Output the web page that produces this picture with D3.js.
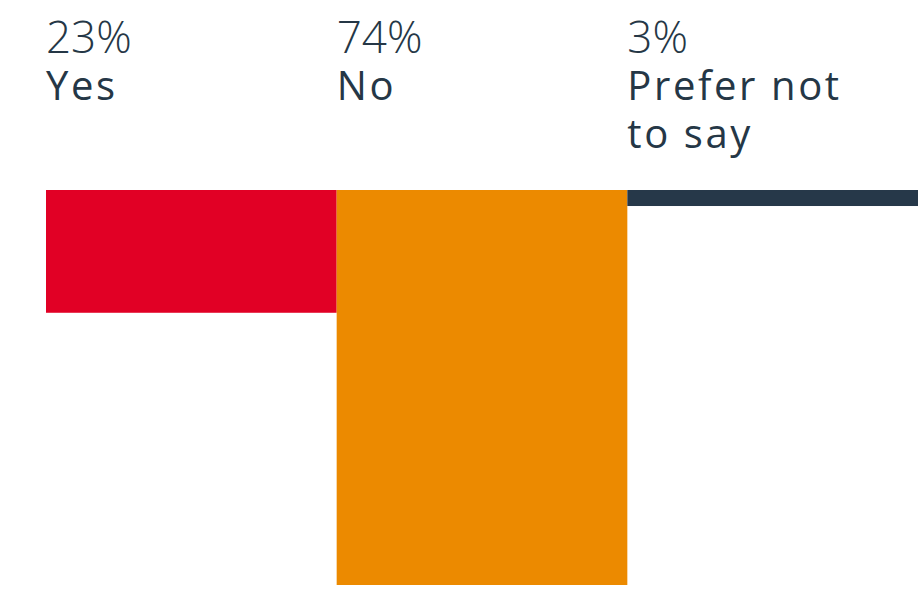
<!DOCTYPE html>
<html>
<head>
<meta charset="utf-8">
<script src="https://cdn.jsdelivr.net/npm/d3@7"></script>
<style>
html,body{margin:0;padding:0;background:#fff;}
svg{display:block;}
text{font-family:"Open Sans", Lato, sans-serif;fill:#253746;}
</style>
</head>
<body>
<svg id="chart" width="923" height="591"></svg>
<script>
const categories = ["Yes", "No", "Prefer not to say"];
const values = [23, 74, 3];
const colors = ["#E10025", "#EC8A00", "#263849"];

const data = categories.map((c, i) => ({cat: c, val: values[i], color: colors[i]}));

const svg = d3.select("#chart");
const x = d3.scaleBand().domain(categories).range([46, 918]).paddingInner(0).paddingOuter(0);
const y = d3.scaleLinear().domain([0, 74]).range([190, 585]);

svg.selectAll("rect.bar").data(data).join("rect")
  .attr("class", "bar")
  .attr("x", d => x(d.cat))
  .attr("y", y(0))
  .attr("width", x.bandwidth())
  .attr("height", d => y(d.val) - y(0))
  .attr("fill", d => d.color);

const g = svg.selectAll("g.lab").data(data).join("g").attr("class", "lab")
  .attr("transform", d => `translate(${x(d.cat)},0)`);

g.append("text")
  .attr("x", 0)
  .attr("y", 53)
  .style("font-size", "44px")
  .style("font-weight", 300)
  .text(d => d.val + "%");

g.each(function(d) {
  const t = d3.select(this).append("text")
    .attr("x", 0)
    .attr("y", 100)
    .style("font-size", "40px")
    .style("font-weight", 400)
    .style("letter-spacing", "2.6px");
  const words = d.cat.split(" ");
  let line = [];
  let lineNo = 0;
  let tspan = t.append("tspan").attr("x", 0).attr("y", 100);
  words.forEach(w => {
    line.push(w);
    tspan.text(line.join(" "));
    if (tspan.node().getComputedTextLength() > 250 && line.length > 1) {
      line.pop();
      tspan.text(line.join(" "));
      line = [w];
      lineNo++;
      tspan = t.append("tspan").attr("x", 0).attr("y", 100 + lineNo * 48).text(w);
    }
  });
});
</script>
</body>
</html>
